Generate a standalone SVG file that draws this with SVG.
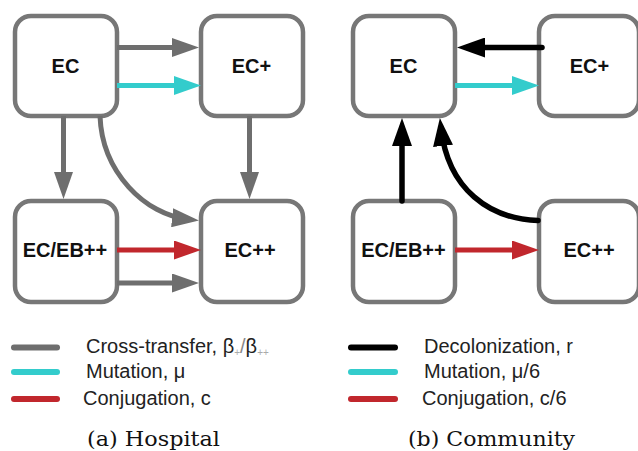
<svg xmlns="http://www.w3.org/2000/svg" width="638" height="451" viewBox="0 0 638 451">
<style>
.box{fill:#fff;stroke:#777;stroke-width:4.5}
.lbl{font-family:"Liberation Sans",Arial,sans-serif;font-weight:bold;font-size:20px;fill:#111;text-anchor:middle}
.c{fill:none;stroke-width:5}
.gray{stroke:#6e6e6e}
.cyan{stroke:#33cccc}
.red{stroke:#c1272d}
.black{stroke:#000;stroke-width:5.5;stroke-linecap:round}
.leg{fill:none;stroke-width:6;stroke-linecap:round}
.lt{font-family:"Liberation Sans",Arial,sans-serif;font-size:20px;fill:#222}
.cap{font-family:"DejaVu Serif","Liberation Serif",serif;font-size:20px;fill:#111}
</style>
<defs>
<marker id="hg" markerUnits="userSpaceOnUse" markerWidth="27" markerHeight="19" viewBox="0 0 27 19" refX="17" refY="9.5" orient="auto"><path d="M0,0 L27,9.5 L0,19 z" fill="#6e6e6e"/></marker>
<marker id="hc" markerUnits="userSpaceOnUse" markerWidth="27" markerHeight="19" viewBox="0 0 27 19" refX="17" refY="9.5" orient="auto"><path d="M0,0 L27,9.5 L0,19 z" fill="#33cccc"/></marker>
<marker id="hr" markerUnits="userSpaceOnUse" markerWidth="27" markerHeight="19" viewBox="0 0 27 19" refX="17" refY="9.5" orient="auto"><path d="M0,0 L27,9.5 L0,19 z" fill="#c1272d"/></marker>
<marker id="hk" markerUnits="userSpaceOnUse" markerWidth="28" markerHeight="20" viewBox="0 0 28 20" refX="18" refY="10" orient="auto"><path d="M0,0 L28,10 L0,20 z" fill="#000"/></marker>
</defs>

<!-- Hospital panel nodes -->
<g id="h-ec"><rect class="box" x="15" y="16" width="102" height="100" rx="16"/><text class="lbl" x="65.5" y="73">EC</text></g>
<g id="h-ecp"><rect class="box" x="201" y="16" width="102" height="100" rx="16"/><text class="lbl" x="251.5" y="73">EC+</text></g>
<g id="h-eceb"><rect class="box" x="15" y="201" width="102" height="101" rx="16"/><text class="lbl" x="65" y="257">EC/EB++</text></g>
<g id="h-ecpp"><rect class="box" x="201" y="201" width="102" height="101" rx="16"/><text class="lbl" x="250" y="257">EC++</text></g>

<!-- Community panel nodes -->
<g id="c-ec"><rect class="box" x="353" y="16" width="102" height="100" rx="16"/><text class="lbl" x="403.5" y="73">EC</text></g>
<g id="c-ecp"><rect class="box" x="539" y="16" width="100" height="100" rx="16"/><text class="lbl" x="589.5" y="73">EC+</text></g>
<g id="c-eceb"><rect class="box" x="353" y="201" width="102" height="101" rx="16"/><text class="lbl" x="403.5" y="257">EC/EB++</text></g>
<g id="c-ecpp"><rect class="box" x="539" y="201" width="100" height="101" rx="16"/><text class="lbl" x="589" y="257">EC++</text></g>

<g id="connectors">
<path class="c gray" d="M117,47.5 H189" marker-end="url(#hg)"/>
<path class="c cyan" d="M117,85.5 H191" marker-end="url(#hc)"/>
<path class="c gray" d="M63.5,116 V189" marker-end="url(#hg)"/>
<path class="c gray" d="M100,116 C102,172 145,215 189,219.5" marker-end="url(#hg)"/>
<path class="c gray" d="M249.5,116 V189" marker-end="url(#hg)"/>
<path class="c red" d="M117,250 H191" marker-end="url(#hr)"/>
<path class="c gray" d="M117,283 H189" marker-end="url(#hg)"/>

<path class="c black" d="M542,47.5 H467" marker-end="url(#hk)"/>
<path class="c cyan" d="M455,85.5 H529" marker-end="url(#hc)"/>
<path class="c black" d="M402,201 V128" marker-end="url(#hk)"/>
<path class="c black" d="M538,220.5 C490,219 448,190 441,128" marker-end="url(#hk)"/>
<path class="c red" d="M455,250 H529" marker-end="url(#hr)"/>
</g>

<!-- Legends -->
<g id="legend-a">
<line class="leg gray" x1="14" y1="347.5" x2="57" y2="347.5"/>
<line class="leg cyan" x1="14" y1="372" x2="57" y2="372"/>
<line class="leg red" x1="14" y1="399" x2="57" y2="399"/>
<text class="lt" x="86" y="353">Cross-transfer, β<tspan font-size="10" fill="#aaa" dy="3">+</tspan><tspan dy="-3" fill="#888">/</tspan>β<tspan font-size="10" fill="#aaa" dy="3">++</tspan></text>
<text class="lt" x="86" y="378">Mutation, μ</text>
<text class="lt" x="83" y="405">Conjugation, c</text>
<text class="cap" x="87" y="446" textLength="133" lengthAdjust="spacingAndGlyphs">(a) Hospital</text>
</g>
<g id="legend-b">
<line class="leg" stroke="#000" x1="351" y1="347.5" x2="395" y2="347.5"/>
<line class="leg cyan" x1="351" y1="372" x2="395" y2="372"/>
<line class="leg red" x1="351" y1="399" x2="395" y2="399"/>
<text class="lt" x="424" y="353">Decolonization, r</text>
<text class="lt" x="424" y="378">Mutation, μ/6</text>
<text class="lt" x="422" y="405">Conjugation, c/6</text>
<text class="cap" x="408" y="446" textLength="167" lengthAdjust="spacingAndGlyphs">(b) Community</text>
</g>
</svg>
